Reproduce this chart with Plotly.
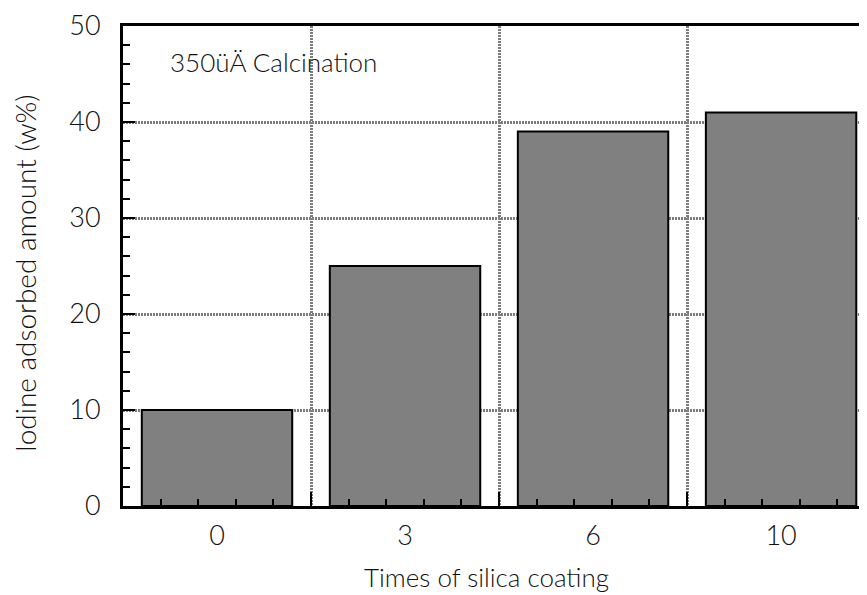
import plotly.graph_objects as go

categories = ["0", "3", "6", "10"]
iodine = [10, 25, 39, 41]
y_ticks = [0, 10, 20, 30, 40, 50]

FONT = "Lato, Roboto, sans-serif"
TXT = "#111111"

pos = list(range(len(categories)))
boundaries = [p + 0.5 for p in pos[:-1]]
minor_x = [p - 0.5 + 0.2 * k for p in pos for k in range(1, 5)]

fig = go.Figure()
fig.add_trace(go.Bar(
    x=pos, y=iodine, width=0.8,
    marker=dict(color="#808080", line=dict(color="black", width=2)),
    showlegend=False, hoverinfo="skip",
))
# invisible trace to anchor the category-boundary axis
fig.add_trace(go.Scatter(x=[pos[0]], y=[0], xaxis="x2", mode="markers",
                         marker=dict(opacity=0), showlegend=False, hoverinfo="skip"))

xr = [-0.5, 3.457]
GRID = dict(showgrid=True, gridcolor="#7c7c7c", gridwidth=2.5, griddash="2px,1px")
fig.update_layout(
    width=859, height=587,
    margin=dict(l=115, r=0, t=15, b=89),
    plot_bgcolor="white", paper_bgcolor="white",
    font=dict(family=FONT, color=TXT, size=26, weight=300),
    xaxis=dict(
        range=xr, tickvals=pos, ticktext=categories, ticks="",
        showgrid=False, zeroline=False,
        showline=True, linecolor="black", linewidth=3, mirror=True,
        tickfont=dict(size=27, family=FONT, color=TXT, weight=300),
        ticklabelstandoff=4,
        minor=dict(tickvals=minor_x, ticks="inside", ticklen=7, tickwidth=2,
                   tickcolor="black", showgrid=False),
    ),
    xaxis2=dict(
        range=xr, overlaying="x", side="bottom", tickvals=boundaries,
        ticks="inside", ticklen=14, tickwidth=2, tickcolor="black",
        showticklabels=False, zeroline=False, showline=False, **GRID,
    ),
    yaxis=dict(
        range=[0, 50], tickvals=y_ticks, ticks="inside", ticklen=12, tickwidth=2,
        tickcolor="black", showline=True, linecolor="black", linewidth=3,
        zeroline=False, ticklabelstandoff=14, ticklabeloverflow="allow",
        tickfont=dict(size=27, family=FONT, color=TXT, weight=300),
        minor=dict(dtick=2, ticks="inside", ticklen=7, tickwidth=2,
                   tickcolor="black", showgrid=False),
        **GRID,
    ),
    annotations=[
        dict(text="350üÄ Calcination", xref="paper", yref="paper",
             x=0.0605, y=0.925, xanchor="left", yanchor="middle",
             showarrow=False, font=dict(size=26, family=FONT, color=TXT, weight=300)),
        dict(text="Times of silica coating", xref="paper", yref="paper",
             x=0.488, y=-0.147, xanchor="center", yanchor="middle",
             showarrow=False, font=dict(size=26, family=FONT, color=TXT, weight=300)),
        dict(text="Iodine adsorbed amount (w%)", xref="paper", yref="paper",
             x=-0.1317, y=0.485, xanchor="center", yanchor="middle", textangle=-90,
             showarrow=False, font=dict(size=28, family=FONT, color=TXT, weight=300)),
    ],
)

fig.write_html("out.html")
